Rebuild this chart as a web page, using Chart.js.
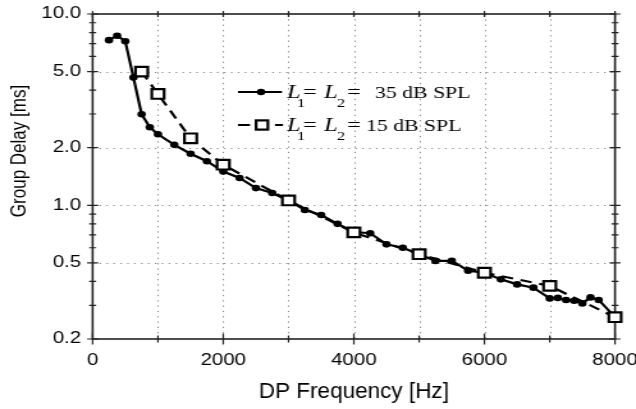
<!DOCTYPE html>
<html><head><meta charset="utf-8">
<script src="https://cdn.jsdelivr.net/npm/chart.js@4"></script>
<style>html,body{margin:0;padding:0;background:#fff;overflow:hidden}
#c{display:block}</style>
</head><body>
<canvas id="c" width="497" height="409" style="width:636px;height:409px"></canvas>
<script>
// ---- data ----
const freq35 = [250,375,500,625,750,875,1000,1250,1500,1750,2000,2250,2500,2750,3000,3250,3500,3750,4000,4250,4500,4750,5000,5250,5500,5750,6000,6250,6500,6750,7000,7125,7250,7375,7500,7625,7750,8000];
const delay35 = [7.3,7.7,7.2,4.65,2.99,2.56,2.35,2.07,1.86,1.70,1.50,1.39,1.23,1.16,1.06,0.945,0.89,0.80,0.725,0.714,0.625,0.600,0.555,0.512,0.513,0.455,0.444,0.410,0.386,0.371,0.326,0.328,0.320,0.317,0.307,0.330,0.320,0.26];
const freq15 = [750,1000,1500,2000,3000,4000,5000,6000,7000,8000];
const delay15 = [5.0,3.82,2.24,1.63,1.06,0.722,0.555,0.444,0.379,0.26];
const xTickValues = [0,1000,2000,3000,4000,5000,6000,7000,8000];
const xLabelValues = [0,2000,4000,6000,8000];
const yMajor = [0.2,0.5,1,2,5,10];
const yMinor = [0.3,0.4,0.6,0.7,0.8,0.9,3,4,6,7,8,9];
const seriesNames = ['35 dB SPL','15 dB SPL'];
const xTitle = 'DP Frequency [Hz]';
const yTitle = 'Group Delay [ms]';

const S = 636/497; // horizontal stretch of the canvas
const SANS = 'Liberation Sans, Arial, sans-serif';
const SERIF = 'Liberation Serif, Times New Roman, serif';

const frame = {
  id:'frame',
  beforeDatasetsDraw(chart){
    const {ctx, chartArea:a, scales:{x,y}} = chart;
    ctx.save();
    ctx.strokeStyle = '#8a8a8a';
    ctx.lineWidth = 1;
    ctx.setLineDash([1.3,4]);
    xTickValues.forEach(v=>{
      if (v===0||v===8000) return;
      const px = Math.round(x.getPixelForValue(v))+0.5;
      ctx.beginPath(); ctx.moveTo(px,a.top); ctx.lineTo(px,a.bottom); ctx.stroke();
    });
    ctx.setLineDash([1.2,4.2]);
    yMajor.forEach(v=>{
      if (v===0.2||v===10) return;
      const py = Math.round(y.getPixelForValue(v))+0.5;
      ctx.beginPath(); ctx.moveTo(a.left,py); ctx.lineTo(a.right,py); ctx.stroke();
    });
    ctx.setLineDash([]);
    ctx.strokeStyle = '#222';
    ctx.lineWidth = 1.6;
    ctx.strokeRect(a.left,a.top,a.right-a.left,a.bottom-a.top);
    ctx.lineWidth = 1.2;
    const tk = (v,len)=>{
      const py = y.getPixelForValue(v);
      ctx.beginPath();
      ctx.moveTo(a.left-len/S,py); ctx.lineTo(a.left+len/S,py);
      ctx.moveTo(a.right-len/S,py); ctx.lineTo(a.right+len/S,py);
      ctx.stroke();
    };
    yMajor.forEach(v=>tk(v,5.5));
    yMinor.forEach(v=>tk(v,3.5));
    xTickValues.forEach(v=>{
      const px = x.getPixelForValue(v);
      const len = xLabelValues.includes(v)?5.5:3.5;
      ctx.beginPath();
      ctx.moveTo(px,a.bottom-len); ctx.lineTo(px,a.bottom+len);
      ctx.moveTo(px,a.top-3); ctx.lineTo(px,a.top+3);
      ctx.stroke();
    });
    ctx.restore();
  },
  afterDraw(chart){
    const {ctx, chartArea:a} = chart;
    ctx.save();
    ctx.fillStyle = '#000';
    ctx.font = '17px ' + SANS;
    ctx.textAlign = 'center';
    ctx.textBaseline = 'middle';
    ctx.translate(20/S, 151);
    ctx.rotate(-Math.PI/2);
    ctx.fillText(yTitle, 0, 0);
    ctx.restore();

    // x title
    ctx.save();
    ctx.fillStyle = '#000';
    ctx.font = '17.6px ' + SANS;
    ctx.textAlign = 'center';
    ctx.textBaseline = 'alphabetic';
    ctx.translate((a.left+a.right)/2, 398);
    ctx.scale(1, 1.24);
    ctx.fillText(xTitle, 0, 0);
    ctx.restore();

    // legend
    ctx.save();
    ctx.fillStyle = '#000';
    ctx.strokeStyle = '#000';
    const rows = [{y:92, base:97.5, name:seriesNames[0], nx:375},
                  {y:125, base:130.5, name:seriesNames[1], nx:366}];
    ctx.lineWidth = 2.2;
    ctx.beginPath(); ctx.moveTo(238/S,rows[0].y); ctx.lineTo(282/S,rows[0].y); ctx.stroke();
    ctx.beginPath(); ctx.arc(261/S,rows[0].y,3.3,0,Math.PI*2); ctx.fill();
    ctx.beginPath();
    ctx.moveTo(238/S,rows[1].y); ctx.lineTo(250/S,rows[1].y);
    ctx.moveTo(275/S,rows[1].y); ctx.lineTo(283/S,rows[1].y);
    ctx.stroke();
    ctx.fillStyle = '#fff';
    const hs = 4.6;
    ctx.fillRect(262/S-hs,rows[1].y-hs,2*hs,2*hs);
    ctx.strokeRect(262/S-hs,rows[1].y-hs,2*hs,2*hs);
    ctx.fillStyle = '#000';
    ctx.textBaseline = 'alphabetic';
    ctx.textAlign = 'left';
    rows.forEach(r=>{
      ctx.font = 'italic 19px ' + SERIF;
      ctx.fillText('L', 287/S, r.base);
      ctx.fillText('L', 324/S, r.base);
      ctx.font = '13px ' + SERIF;
      ctx.fillText('1', 297/S, r.base+9);
      ctx.fillText('2', 337/S, r.base+9);
      ctx.font = '19px ' + SERIF;
      ctx.fillText('=', 303/S, r.base);
      ctx.fillText('=', 347/S, r.base);
      ctx.font = '17px ' + SERIF;
      ctx.fillText(r.name, r.nx/S, r.base);
    });
    ctx.restore();
  }
};

new Chart(document.getElementById('c'), {
  type:'line',
  data:{
    datasets:[
      { label:'L1= L2= 35 dB SPL',
        data: freq35.map((f,i)=>({x:f,y:delay35[i]})),
        borderColor:'#000', borderWidth:2.2, backgroundColor:'#000',
        pointRadius:3.3, pointStyle:'circle', pointBorderWidth:0,
        pointBackgroundColor:'#000', tension:0, order:1, clip:false },
      { label:'L1= L2= 15 dB SPL',
        data: freq15.map((f,i)=>({x:f,y:delay15[i]})),
        borderColor:'#000', borderWidth:2.2, borderDash:[9,6],
        pointRadius:6.8, pointStyle:'rect', pointBorderWidth:2.2,
        pointBackgroundColor:'#fff', pointBorderColor:'#000',
        tension:0, order:0, clip:false }
    ]
  },
  options:{
    responsive:false, animation:false, devicePixelRatio:1,
    layout:{padding:{top:14,right:16.4,left:0,bottom:0}},
    plugins:{legend:{display:false},tooltip:{enabled:false}},
    scales:{
      x:{ type:'linear', min:0, max:8000,
        grid:{display:false, drawTicks:false}, border:{display:false},
        afterBuildTicks(s){ s.ticks = xTickValues.map(v=>({value:v})); },
        afterFit(s){ s.height = 70; s.paddingLeft = 0; s.paddingRight = 0; },
        ticks:{ autoSkip:false, maxRotation:0, padding:12, color:'#000',
          font:{family:SANS,size:16},
          callback:(v)=> xLabelValues.includes(v) ? String(v) : '' }
      },
      y:{ type:'logarithmic', min:0.2, max:10,
        grid:{display:false, drawTicks:false}, border:{display:false},
        afterBuildTicks(s){ s.ticks = yMajor.concat(yMinor).sort((a,b)=>a-b).map(v=>({value:v})); },
        afterFit(s){ s.width = 72.4; s.paddingTop = 0; s.paddingBottom = 0; },
        ticks:{ autoSkip:false, padding:9, color:'#000',
          font:{family:SANS,size:16},
          callback:(v)=> yMajor.includes(v) ? v.toFixed(1) : '' }
      }
    }
  },
  plugins:[frame]
});
</script>
</body></html>
